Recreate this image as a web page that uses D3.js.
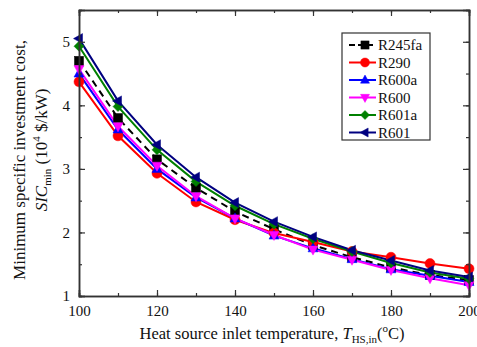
<!DOCTYPE html>
<html>
<head>
<meta charset="utf-8">
<script src="https://cdn.jsdelivr.net/npm/d3@7"></script>
<style>
  body { margin: 0; background: #fff; }
  svg text { font-family: "Liberation Serif", "Times New Roman", serif; }
</style>
</head>
<body>
<div id="chart"></div>
<script>
var temps = [100, 110, 120, 130, 140, 150, 160, 170, 180, 190, 200];
var names = ["R245fa", "R290", "R600a", "R600", "R601a", "R601"];
var colors = ["#000000", "#ff0000", "#0000ff", "#ff00ff", "#008000", "#000080"];
var symbols = ["square", "circle", "triUp", "triDown", "diamond", "triLeft"];

var r245fa = [4.70, 3.80, 3.15, 2.70, 2.33, 2.05, 1.80, 1.61, 1.45, 1.33, 1.25];
var r290   = [4.37, 3.52, 2.93, 2.48, 2.20, 1.99, 1.85, 1.70, 1.61, 1.51, 1.43];
var r600a  = [4.50, 3.62, 3.00, 2.55, 2.22, 1.95, 1.75, 1.58, 1.42, 1.32, 1.22];
var r600   = [4.57, 3.67, 3.05, 2.57, 2.22, 1.96, 1.73, 1.57, 1.41, 1.28, 1.17];
var r601a  = [4.93, 3.98, 3.30, 2.80, 2.42, 2.13, 1.90, 1.70, 1.52, 1.37, 1.27];
var r601   = [5.05, 4.07, 3.38, 2.87, 2.47, 2.17, 1.93, 1.72, 1.56, 1.40, 1.30];
var series = [r245fa, r290, r600a, r600, r601a, r601];

var xTicks = [100, 120, 140, 160, 180, 200];
var yTicks = [1, 2, 3, 4, 5];

var width = 477, height = 347;
var margin = { top: 10, right: 8, bottom: 51, left: 79 };

var svg = d3.select("#chart").append("svg")
    .attr("width", width)
    .attr("height", height);

var x = d3.scaleLinear().domain([100, 200]).range([margin.left, width - margin.right]);
var y = d3.scaleLinear().domain([1, 5.5]).range([height - margin.bottom, margin.top]);

var axisColor = "#333";
var serif = "'Liberation Serif', 'Times New Roman', serif";

// marker shapes
function marker(g, type, color, s) {
    var h = s / 2;
    var p;
    if (type === "square") p = g.append("rect").attr("x", -h * 0.9).attr("y", -h * 0.9).attr("width", s * 0.9).attr("height", s * 0.9);
    else if (type === "circle") p = g.append("circle").attr("r", h);
    else {
        var pts;
        if (type === "triUp") pts = [[0, -h * 1.1], [h, h * 0.7], [-h, h * 0.7]];
        if (type === "triDown") pts = [[0, h * 1.1], [h, -h * 0.7], [-h, -h * 0.7]];
        if (type === "triLeft") pts = [[-h * 1.1, 0], [h * 0.7, -h], [h * 0.7, h]];
        if (type === "diamond") pts = [[0, -h], [h, 0], [0, h], [-h, 0]];
        p = g.append("polygon").attr("points", pts.map(function (d) { return d.join(","); }).join(" "));
    }
    p.attr("fill", color).attr("stroke", color).attr("stroke-width", 0.5);
}

var line = d3.line()
    .x(function (d, i) { return x(temps[i]); })
    .y(function (d) { return y(d); });

var plot = svg.append("g");
series.forEach(function (vals, k) {
    plot.append("path")
        .datum(vals)
        .attr("d", line)
        .attr("fill", "none")
        .attr("stroke", colors[k])
        .attr("stroke-width", 2)
        .attr("stroke-dasharray", k === 0 ? "7,5" : null);
});
series.forEach(function (vals, k) {
    vals.forEach(function (v, i) {
        var g = plot.append("g").attr("transform", "translate(" + x(temps[i]) + "," + y(v) + ")");
        marker(g, symbols[k], colors[k], 10);
    });
});

// axes (ticks inward)
var xMinor = d3.range(100, 201, 10);
var yMinor = d3.range(1, 5.51, 0.5);

var gB = svg.append("g").attr("transform", "translate(0," + y(1) + ")")
    .call(d3.axisBottom(x).tickValues(xTicks).tickSize(-6).tickPadding(9));
var gBm = svg.append("g").attr("transform", "translate(0," + y(1) + ")")
    .call(d3.axisBottom(x).tickValues(xMinor).tickSize(-3).tickFormat(""));
var gT = svg.append("g").attr("transform", "translate(0," + y(5.5) + ")")
    .call(d3.axisTop(x).tickValues(xTicks).tickSize(-6).tickFormat(""));
var gTm = svg.append("g").attr("transform", "translate(0," + y(5.5) + ")")
    .call(d3.axisTop(x).tickValues(xMinor).tickSize(-3).tickFormat(""));
var gL = svg.append("g").attr("transform", "translate(" + x(100) + ",0)")
    .call(d3.axisLeft(y).tickValues(yTicks).tickSize(-6).tickPadding(9).tickFormat(d3.format("d")));
var gLm = svg.append("g").attr("transform", "translate(" + x(100) + ",0)")
    .call(d3.axisLeft(y).tickValues(yMinor).tickSize(-3).tickFormat(""));
var gR = svg.append("g").attr("transform", "translate(" + x(200) + ",0)")
    .call(d3.axisRight(y).tickValues(yTicks).tickSize(-6).tickFormat(""));
var gRm = svg.append("g").attr("transform", "translate(" + x(200) + ",0)")
    .call(d3.axisRight(y).tickValues(yMinor).tickSize(-3).tickFormat(""));

[gB, gBm, gT, gTm, gL, gLm, gR, gRm].forEach(function (g) {
    g.attr("font-family", serif).attr("font-size", 15);
    g.selectAll(".domain").attr("stroke", axisColor).attr("stroke-width", 1.5);
    g.selectAll(".tick line").attr("stroke", axisColor).attr("stroke-width", 1.2);
    g.selectAll(".tick text").attr("fill", "#111");
});

// axis titles
var xt = svg.append("text")
    .attr("x", 272).attr("y", 339)
    .attr("text-anchor", "middle")
    .attr("font-size", 16.5).attr("fill", "#111");
xt.append("tspan").text("Heat source inlet temperature, ");
xt.append("tspan").attr("font-style", "italic").text("T");
xt.append("tspan").attr("font-size", 11).attr("dy", 4).text("HS,in");
xt.append("tspan").attr("dy", -4).text("(");
xt.append("tspan").attr("font-size", 11).attr("dy", -7).text("o");
xt.append("tspan").attr("dy", 7).text("C)");

svg.append("text")
    .attr("transform", "translate(25,160) rotate(-90)")
    .attr("text-anchor", "middle")
    .attr("font-size", 17).attr("fill", "#111")
    .text("Minimum specific investment cost,");

var yt = svg.append("text")
    .attr("transform", "translate(47,150) rotate(-90)")
    .attr("text-anchor", "middle")
    .attr("font-size", 17).attr("fill", "#111");
yt.append("tspan").attr("font-style", "italic").text("SIC");
yt.append("tspan").attr("font-size", 11).attr("dy", 4).text("min");
yt.append("tspan").attr("dy", -4).text(" (10");
yt.append("tspan").attr("font-size", 11).attr("dy", -7).text("4");
yt.append("tspan").attr("dy", 7).text(" $/kW)");

// legend
var legend = svg.append("g").attr("transform", "translate(342,33)");
legend.append("rect")
    .attr("width", 88).attr("height", 107)
    .attr("fill", "#fff").attr("stroke", axisColor).attr("stroke-width", 1.2);
names.forEach(function (n, k) {
    var ly = 12 + k * 17.5;
    legend.append("line")
        .attr("x1", 7).attr("x2", 34).attr("y1", ly).attr("y2", ly)
        .attr("stroke", colors[k]).attr("stroke-width", 2)
        .attr("stroke-dasharray", k === 0 ? "6,3" : null);
    var g = legend.append("g").attr("transform", "translate(23," + ly + ")");
    marker(g, symbols[k], colors[k], 9);
    legend.append("text")
        .attr("x", 36).attr("y", ly + 5)
        .attr("font-size", 15).attr("fill", "#111")
        .text(n);
});
</script>
</body>
</html>
